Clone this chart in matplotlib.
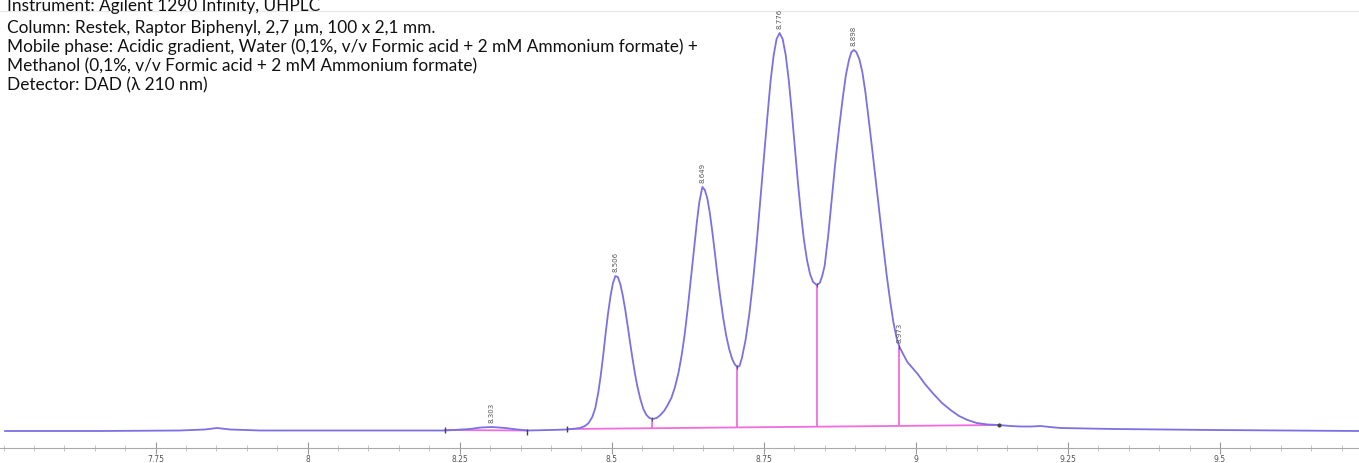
import numpy as np
import matplotlib
matplotlib.use("Agg")
import matplotlib.pyplot as plt
from matplotlib.ticker import MultipleLocator, FixedLocator, FormatStrFormatter

# chromatogram trace (time in min, signal in arbitrary units)
time = [7.5025, 7.6587, 7.790, 7.831, 7.851, 7.873, 7.922, 8.070, 8.226, 8.267,
        8.285, 8.303, 8.325, 8.345, 8.361, 8.399, 8.427, 8.448, 8.456, 8.462,
        8.468, 8.473, 8.478, 8.482, 8.486, 8.490, 8.494, 8.498, 8.502, 8.506,
        8.510, 8.514, 8.518, 8.522, 8.526, 8.530, 8.534, 8.538, 8.542, 8.547,
        8.552, 8.557, 8.562, 8.567, 8.574, 8.580, 8.586, 8.592, 8.598, 8.604,
        8.610, 8.615, 8.620, 8.625, 8.630, 8.635, 8.640, 8.644, 8.649, 8.653,
        8.657, 8.661, 8.665, 8.669, 8.673, 8.678, 8.683, 8.688, 8.693, 8.698,
        8.702, 8.706, 8.710, 8.714, 8.720, 8.726, 8.732, 8.738, 8.744, 8.750,
        8.756, 8.761, 8.766, 8.771, 8.776, 8.781, 8.786, 8.791, 8.796, 8.801,
        8.806, 8.811, 8.816, 8.821, 8.826, 8.831, 8.837, 8.842, 8.846, 8.850,
        8.856, 8.862, 8.868, 8.874, 8.880, 8.885, 8.890, 8.894, 8.898, 8.902,
        8.907, 8.912, 8.917, 8.922, 8.928, 8.934, 8.940, 8.946, 8.952, 8.958,
        8.963, 8.968, 8.973, 8.986, 9.003, 9.015, 9.029, 9.043, 9.057, 9.071,
        9.085, 9.100, 9.118, 9.136, 9.155, 9.172, 9.190, 9.205, 9.220, 9.238,
        9.280, 9.325, 9.400, 9.489, 9.600, 9.7286]
signal = [-1, -1, -0.5, 0.5, 2, 0.5, -0.5, -0.5, -0.5, 1,
          2.5, 3, 2, 0.5, -0.5, 0, 0.5, 2, 4, 7,
          13, 22, 38, 55, 75, 97, 117, 134, 147, 154,
          153, 146, 135, 121, 105, 88, 72, 57, 44, 31,
          21, 15, 12, 11, 12, 15, 19, 25, 32, 43,
          58, 75, 96, 122, 151, 180, 208, 228, 243, 240,
          232, 218, 200, 180, 159, 135, 113, 95, 81, 71,
          66, 63, 64, 72, 90, 115, 147, 185, 228, 272,
          314, 348, 374, 391, 397, 391, 375, 350, 318, 283,
          248, 217, 190, 170, 156, 148, 145, 147, 154, 164,
          195, 233, 270, 303, 333, 355, 370, 378, 380, 378,
          371, 358, 338, 313, 282, 250, 218, 186, 155, 128,
          108, 93, 83, 68, 56, 46, 36, 27, 20, 14,
          10, 7, 5.5, 5, 4, 3.5, 3.5, 4, 3, 2,
          1.5, 1, 0.5, 0, -0.5, -1]

# integration baseline and peak marks
base_t = [8.427, 9.136]
base_s = [1.0, 5.0]
small_base_t = [8.226, 8.361]
small_base_s = [0.0, -0.5]
drop_t = [8.567, 8.706, 8.837, 8.973]
drop_top = [11, 63, 145, 83]
drop_bottom = [1.2, 2.0, 3.2, 4.0]
peak_t = [8.303, 8.506, 8.649, 8.776, 8.898, 8.973]
peak_s = [3, 154, 243, 397, 380, 83]
mark_t = [8.226, 8.361, 8.427]
mark_s = [0.5, -1.5, 1.0]
tick_vals = [7.75, 8.0, 8.25, 8.5, 8.75, 9.0, 9.25, 9.5]

header = [
    "Instrument: Agilent 1290 Infinity, UHPLC",
    "Column: Restek, Raptor Biphenyl, 2,7 \u00b5m, 100 x 2,1 mm.",
    "Mobile phase: Acidic gradient, Water (0,1%, v/v Formic acid + 2 mM Ammonium formate) +",
    "Methanol (0,1%, v/v Formic acid + 2 mM Ammonium formate)",
    "Detector: DAD (\u03bb 210 nm)",
]
header_y = [11, 33, 52, 71, 90]  # baselines, px from top

W, H = 1359, 463
fig = plt.figure(figsize=(W / 100, H / 100), dpi=100)
ax = fig.add_axes([0, 15 / H, 1, (448 - 11) / H])

trace_col = "#7b70e4"
pink = "#f26ce0"

ax.plot(time, signal, color=trace_col, lw=1.3, zorder=3)
ax.plot(base_t, base_s, color=pink, lw=1.3, zorder=2)
ax.plot(small_base_t, small_base_s, color=pink, lw=1.3, zorder=2)
ax.vlines(drop_t, drop_bottom, drop_top, color=pink, lw=1.3, zorder=2)
ax.plot(mark_t, mark_s, ls="none", marker="|", ms=5, mew=1, color="#444", zorder=4)
ax.plot(drop_t, drop_top, ls="none", marker="|", ms=3, mew=0.8, color="#555", zorder=4)
ax.plot([9.136], [5], ls="none", marker="o", ms=2, color="#444", zorder=4)

for t, s in zip(peak_t, peak_s):
    ax.text(t, s + 4, f"{t:.3f}", rotation=90, ha="center", va="bottom",
            fontsize=5, color="#555", zorder=5)

ax.set_xlim(7.4942, 9.7286)
ax.set_ylim(-18, 419)
ax.xaxis.set_major_locator(FixedLocator(tick_vals))
ax.xaxis.set_minor_locator(MultipleLocator(0.05))
ax.xaxis.set_major_formatter(FormatStrFormatter("%g"))
ax.tick_params(axis="x", which="major", direction="inout", length=8, width=0.8,
               color="#999", labelsize=5.5, labelcolor="#555", pad=1)
ax.tick_params(axis="x", which="minor", direction="inout", length=4, width=0.6,
               color="#bbb")
ax.set_yticks([])
for side in ("left", "right"):
    ax.spines[side].set_visible(False)
ax.spines["bottom"].set_color("#aaa")
ax.spines["bottom"].set_linewidth(0.8)
ax.spines["top"].set_color("#e8e8e8")
ax.spines["top"].set_linewidth(0.8)

for line, y in zip(header, header_y):
    fig.text(7 / W, 1 - y / H, line, ha="left", va="baseline",
             fontsize=12.4, color="#111", family=["Lato", "DejaVu Sans"])

fig.savefig("out.png", dpi=100)
